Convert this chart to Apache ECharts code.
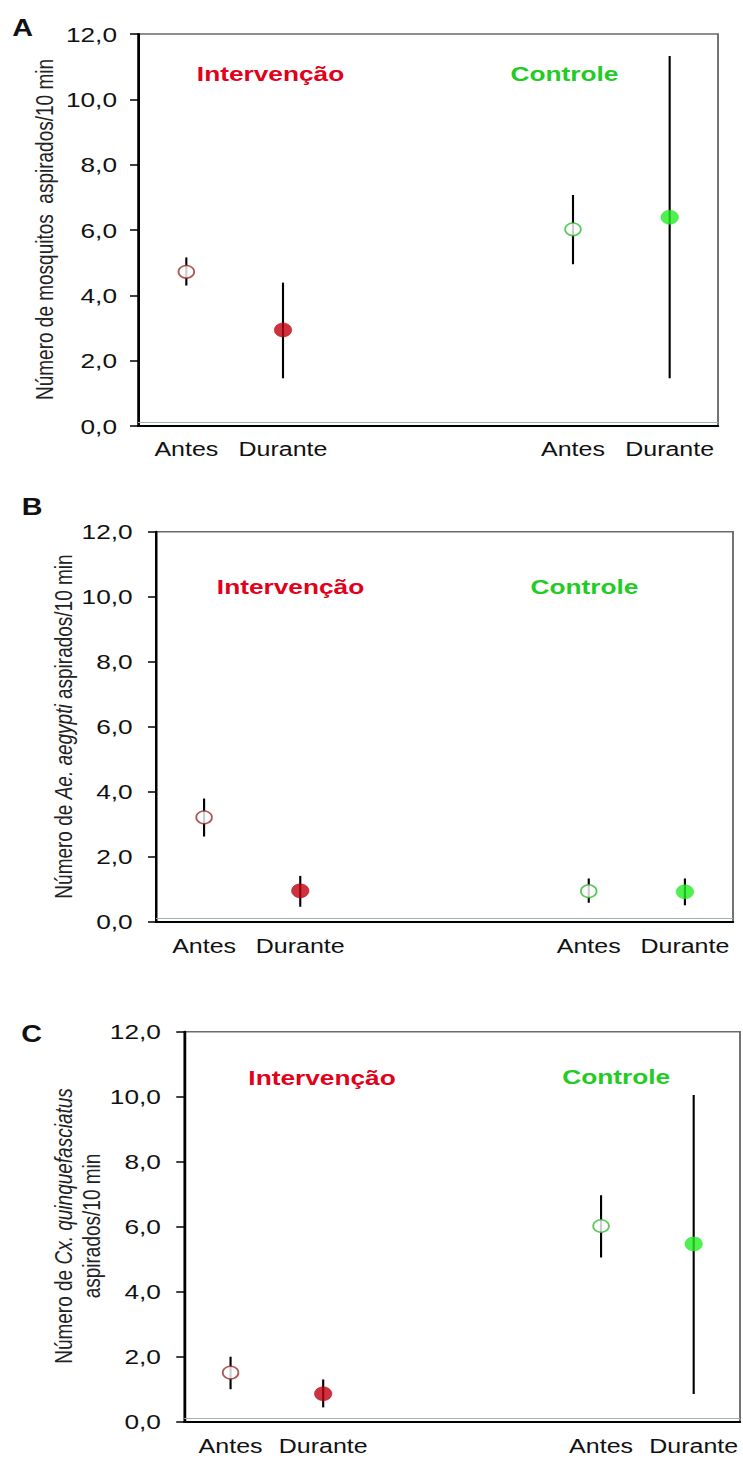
<!DOCTYPE html>
<html>
<head>
<meta charset="utf-8">
<script src="https://cdn.jsdelivr.net/npm/echarts@6/dist/echarts.min.js"></script>
<style>
  html, body { margin: 0; padding: 0; background: #fff; overflow: hidden; }
  /* the figure is laid out narrow and widened horizontally */
  #chart { width: 594.4px; height: 1459px; transform: scaleX(1.25); transform-origin: 0 0; }
</style>
</head>
<body>
<div id="chart"></div>
<script>
// x categories: two groups (Intervenção, Controle) with a gap between them
const categories = ['Antes', 'Durante', '', '', 'Antes', 'Durante'];
const pointSlots = [0, 1, 4, 5];

// A: mosquitos aspirados/10 min
const meanA = [4.72, 2.94, 6.02, 6.39];
const lowA  = [4.30, 1.46, 4.95, 1.46];
const highA = [5.16, 4.39, 7.07, 11.33];

// B: Ae. aegypti aspirados/10 min
const meanB = [3.21, 0.95, 0.94, 0.92];
const lowB  = [2.62, 0.46, 0.58, 0.51];
const highB = [3.79, 1.41, 1.33, 1.33];

// C: Cx. quinquefasciatus aspirados/10 min
const meanC = [1.51, 0.86, 6.02, 5.47];
const lowC  = [1.00, 0.44, 5.05, 0.85];
const highC = [2.00, 1.30, 6.97, 10.05];

const yMin = 0, yMax = 12, yStep = 2;

const FONT = '"Liberation Sans", Arial, sans-serif';
const RED = '#e2001a', GREEN = '#22cc22';

// Antes = open marker, Durante = filled marker
const markerStyles = [
  { color: '#ffffff', borderColor: '#9c2a2a', borderWidth: 1.5 },
  { color: '#c0000f', borderColor: '#b0000c', borderWidth: 0.5 },
  { color: '#ffffff', borderColor: '#33bb33', borderWidth: 1.5 },
  { color: '#22ee22', borderColor: '#22dd22', borderWidth: 0.5 }
];
const markerSizes = [12.5, 14, 12.5, 14];

const grids = [
  { left: 110.4, top: 34,    width: 464,   height: 392 },
  { left: 124.8, top: 531.7, width: 461.6, height: 390 },
  { left: 147.4, top: 1031.7, width: 444.6, height: 390 }
];
const xLabelMargins = [13, 15, 15];
const yLabelMargins = [16.8, 18.7, 18.7];

const fmt = v => v.toFixed(1).replace('.', ',');

function panelSeries(i, mean, low, high) {
  return [
    {
      type: 'custom',
      xAxisIndex: i, yAxisIndex: i,
      z: 2, silent: true,
      data: pointSlots.map((c, k) => [c, low[k], high[k]]),
      encode: { x: 0, y: [1, 2] },
      renderItem: (params, api) => {
        const x = api.value(0);
        const a = api.coord([x, api.value(2)]);
        const b = api.coord([x, api.value(1)]);
        return {
          type: 'line',
          shape: { x1: a[0], y1: a[1], x2: b[0], y2: b[1] },
          style: { stroke: '#000', lineWidth: 1.7 }
        };
      }
    },
    {
      type: 'scatter',
      xAxisIndex: i, yAxisIndex: i,
      z: 3, silent: true,
      symbol: 'circle',
      data: pointSlots.map((c, k) => ({
        value: [c, mean[k]],
        symbolSize: markerSizes[k],
        itemStyle: markerStyles[k]
      })),
      markLine: {
        silent: true, symbol: 'none',
        label: { show: false },
        lineStyle: { color: '#9fb1b1', width: 1.2, type: 'solid' },
        data: [{ yAxis: 0.1 }]
      }
    }
  ];
}

const xAxes = grids.map((g, i) => ({
  type: 'category', gridIndex: i, data: categories,
  boundaryGap: true,
  axisTick: { show: false },
  axisLine: { lineStyle: { color: '#000', width: 2 } },
  axisLabel: { color: '#111', fontFamily: FONT, fontSize: 20, margin: xLabelMargins[i], interval: 0 }
}));

const yAxes = grids.map((g, i) => ({
  type: 'value', gridIndex: i, min: yMin, max: yMax, interval: yStep,
  axisLine: { show: true, lineStyle: { color: '#000', width: 2 } },
  axisTick: { show: true, length: 6.4, lineStyle: { color: '#000', width: 1.5 } },
  splitLine: { show: false },
  axisLabel: { color: '#111', fontFamily: FONT, fontSize: 21, margin: yLabelMargins[i], formatter: fmt }
}));

function txt(x, y, text, opts) {
  return {
    type: 'text', x: x, y: y, silent: true,
    rotation: opts.rotation || 0,
    style: Object.assign({
      text: text,
      fontFamily: FONT,
      align: 'center', verticalAlign: 'middle',
      textAlign: 'center', textVerticalAlign: 'middle'
    }, opts.style)
  };
}

const groupLabel = (x, y, text, color) =>
  txt(x, y, text, { style: { fill: color, fontSize: 21, fontWeight: 'bold' } });
const panelLetter = (x, y, text) =>
  txt(x, y, text, { style: { fill: '#111', fontSize: 23, fontWeight: 'bold' } });

const titleRich = {
  n: { fontFamily: FONT, fontSize: 19, fill: '#222', color: '#222', lineHeight: 23 },
  i: { fontFamily: FONT, fontSize: 19, fill: '#222', color: '#222', fontStyle: 'italic', lineHeight: 23 }
};
const yTitle = (x, y, text) =>
  txt(x, y, text, { rotation: Math.PI / 2, style: { fill: '#222', fontSize: 19, rich: titleRich } });

const graphics = [
  panelLetter(18, 28, 'A'),
  panelLetter(25.6, 507, 'B'),
  panelLetter(25.2, 1034, 'C'),

  groupLabel(216.4, 73, 'Intervenção', RED),
  groupLabel(451.6, 73, 'Controle', GREEN),
  groupLabel(232.4, 586.7, 'Intervenção', RED),
  groupLabel(467.6, 586.7, 'Controle', GREEN),
  groupLabel(257.6, 1077, 'Intervenção', RED),
  groupLabel(493, 1076, 'Controle', GREEN),

  yTitle(36, 229.5, '{n|Número de mosquitos  aspirados/10 min}'),
  yTitle(51.2, 726.5, '{n|Número de }{i|Ae. aegypti}{n| aspirados/10 min}'),
  yTitle(62.6, 1226, '{n|Número de }{i|Cx. quinquefasciatus}\n{n|aspirados/10 min}')
];

const chart = echarts.init(document.getElementById('chart'), null, { renderer: 'svg' });
chart.setOption({
  animation: false,
  backgroundColor: '#fff',
  grid: grids.map(g => Object.assign({
    show: true, borderColor: '#6a6a6a', borderWidth: 1.5, backgroundColor: 'transparent',
    containLabel: false
  }, g)),
  xAxis: xAxes,
  yAxis: yAxes,
  series: [].concat(
    panelSeries(0, meanA, lowA, highA),
    panelSeries(1, meanB, lowB, highB),
    panelSeries(2, meanC, lowC, highC)
  ),
  graphic: graphics
});
</script>
</body>
</html>
